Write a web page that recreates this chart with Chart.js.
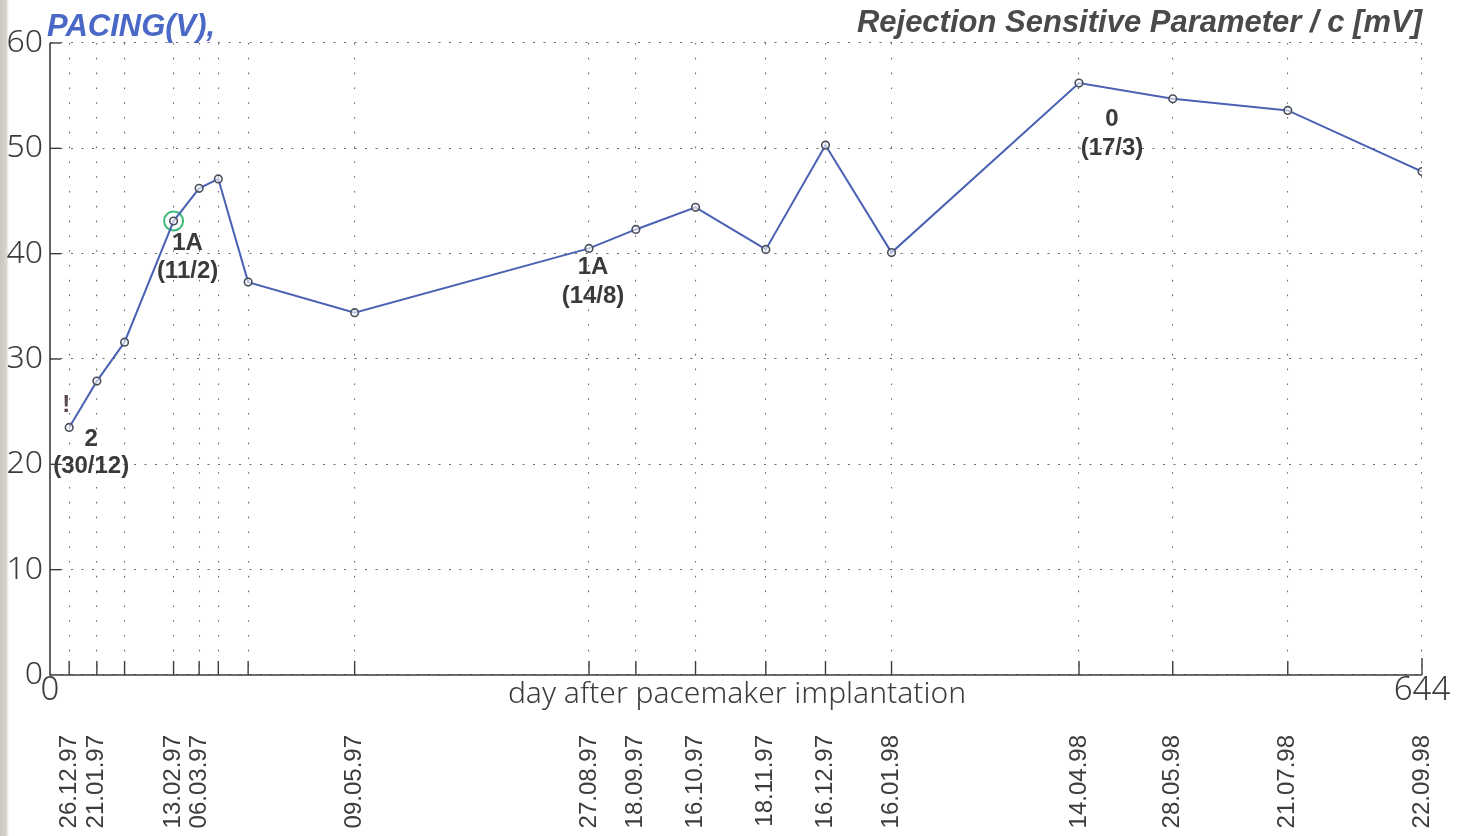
<!DOCTYPE html>
<html>
<head>
<meta charset="utf-8">
<script src="https://cdn.jsdelivr.net/npm/chart.js@4.4.1/dist/chart.umd.min.js"></script>
<style>
  html, body { margin: 0; padding: 0; }
  body {
    width: 1468px; height: 836px; overflow: hidden;
    background: linear-gradient(to right, #cbc6be 0px, #d6d2cb 6px, #ffffff 9px);
  }
  canvas { display: block; }
</style>
</head>
<body>
<canvas id="c" width="1468" height="836"></canvas>
<script>
// Measurement days (days after pacemaker implantation)
const days = [9, 22, 35, 58, 70, 79, 93, 143, 253, 275, 303, 336, 364, 395, 483, 527, 581, 644];
// Rejection sensitive parameter, mV
const rsp = [23.5, 27.9, 31.6, 43.1, 46.2, 47.1, 37.3, 34.4, 40.5, 42.3, 44.4, 40.4, 50.3, 40.1, 56.2, 54.7, 53.6, 47.8];
// Calendar date printed under each measurement ('' = unlabelled)
const dateLabels = ['26.12.97', '21.01.97', '', '13.02.97', '06.03.97', '', '', '09.05.97',
  '27.08.97', '18.09.97', '16.10.97', '18.11.97', '16.12.97', '16.01.98',
  '14.04.98', '28.05.98', '21.07.98', '22.09.98'];
// Biopsy results attached to measurements: point index, grade, biopsy date
const biopsyIdx = [0, 3, 8, 14];
const biopsyGrade = ['2', '1A', '1A', '0'];
const biopsyDate = ['(30/12)', '(11/2)', '(14/8)', '(17/3)'];
// Highlighted measurement
const markedIdx = [3];
// Axis ranges and tick values
const dayRange = [0, 644];
const yTicks = [0, 10, 20, 30, 40, 50, 60];

const thinFont = "'Noto Sans', 'DejaVu Sans', sans-serif";
const boldFont = "'Liberation Sans', Arial, sans-serif";
const INK = '#3c3c3c';

const chartArea = { left: 50, top: 43, right: 1422, bottom: 675 };

// keep the plot frame fixed regardless of label overhang
function noOverhang(s) {
  s.paddingLeft = 0; s.paddingRight = 0; s.paddingTop = 0; s.paddingBottom = 0;
}

const decorPlugin = {
  id: 'decor',
  beforeDatasetsDraw(chart) {
    const ctx = chart.ctx;
    const xs = chart.scales.xDates, ys = chart.scales.y;
    const a = chart.chartArea;
    ctx.save();
    ctx.strokeStyle = INK;
    ctx.lineWidth = 1.6;
    ctx.setLineDash([]);
    // axis lines
    ctx.beginPath();
    ctx.moveTo(a.left, a.top);
    ctx.lineTo(a.left, a.bottom);
    ctx.lineTo(a.right, a.bottom);
    ctx.stroke();
    // inward ticks on the day axis
    ctx.lineWidth = 1.4;
    xs.ticks.forEach(t => {
      const px = xs.getPixelForValue(t.value);
      const len = t.value === dayRange[1] ? 17 : 14;
      ctx.beginPath();
      ctx.moveTo(px, a.bottom);
      ctx.lineTo(px, a.bottom - len);
      ctx.stroke();
    });
    // inward ticks on the value axis
    ys.ticks.forEach(t => {
      if (t.value === 0) return;
      const py = ys.getPixelForValue(t.value);
      ctx.beginPath();
      ctx.moveTo(a.left, py);
      ctx.lineTo(a.left + 11, py);
      ctx.stroke();
    });
    ctx.restore();
  },
  afterDatasetsDraw(chart) {
    const ctx = chart.ctx;
    const xs = chart.scales.xDates, ys = chart.scales.y;
    const a = chart.chartArea;
    const o = chart.options.plugins.decor;
    ctx.save();
    // biopsy annotations
    ctx.fillStyle = '#3a3a3a';
    ctx.font = 'bold 24px ' + boldFont;
    ctx.textAlign = 'center';
    ctx.textBaseline = 'middle';
    biopsyIdx.forEach((idx, k) => {
      const px = xs.getPixelForValue(days[idx]);
      const py = ys.getPixelForValue(rsp[idx]);
      const off = o.noteOffsets[k];
      ctx.fillText(biopsyGrade[k], px + off[0], py + off[1]);
      ctx.fillText(biopsyDate[k], px + off[0], py + off[2]);
    });
    // warning mark above the first measurement
    ctx.fillStyle = '#5c4a4a';
    ctx.fillText('!', xs.getPixelForValue(days[0]) - 3, ys.getPixelForValue(rsp[0]) - 22);

    // axis caption, on the same line as the end labels
    ctx.fillStyle = INK;
    ctx.font = '300 30px ' + thinFont;
    ctx.textBaseline = 'middle';
    ctx.fillText('day after pacemaker implantation', (a.left + a.right) / 2 + 1, a.bottom + 19);

    // headers
    ctx.font = 'italic bold 31px ' + boldFont;
    ctx.textAlign = 'left';
    ctx.textBaseline = 'alphabetic';
    ctx.fillStyle = '#4a68c6';
    ctx.fillText('PACING(V),', 47, 36);
    ctx.textAlign = 'right';
    ctx.fillStyle = '#4a4a4a';
    ctx.font = 'italic bold 31px ' + boldFont;
    ctx.fillText('Rejection Sensitive Parameter / c [mV]', 1422, 32);
    ctx.restore();
  }
};

new Chart(document.getElementById('c'), {
  type: 'line',
  data: {
    datasets: [
      {
        data: days.map((d, i) => ({ x: d, y: rsp[i] })),
        xAxisID: 'xDates',
        borderColor: '#4b62b4',
        borderWidth: 2,
        pointRadius: 3.8,
        pointBorderWidth: 1.6,
        pointBorderColor: '#4a4f5c',
        pointBackgroundColor: 'rgba(255,255,255,0.6)',
        tension: 0
      },
      {
        data: markedIdx.map(i => ({ x: days[i], y: rsp[i] })),
        xAxisID: 'xDates',
        showLine: false,
        pointRadius: 9.5,
        pointBorderWidth: 2,
        pointBorderColor: '#3dbb7a',
        pointBackgroundColor: 'rgba(0,0,0,0)'
      }
    ]
  },
  options: {
    responsive: false,
    animation: false,
    events: [],
    layout: { padding: { top: chartArea.top, right: 1468 - chartArea.right, left: 0, bottom: 0 } },
    plugins: {
      legend: { display: false },
      tooltip: { enabled: false },
      decor: {
        // [dx, dy grade, dy date] relative to the annotated point
        noteOffsets: [[22, 12, 39], [14, 22, 50], [4, 19, 48], [33, 36, 65]]
      }
    },
    scales: {
      y: {
        type: 'linear',
        min: yTicks[0], max: yTicks[yTicks.length - 1],
        afterFit(s) { s.width = chartArea.left; noOverhang(s); },
        afterBuildTicks(s) { s.ticks = yTicks.map(v => ({ value: v })); },
        ticks: {
          color: INK,
          font: { family: thinFont, size: 32, weight: '300' },
          padding: 7,
          crossAlign: 'near'
        },
        grid: {
          display: true,
          color: '#6a6a6a',
          lineWidth: 1.1,
          drawTicks: false
        },
        border: { display: false, dash: [2, 8.5] }
      },
      xDates: {
        type: 'linear',
        position: 'bottom',
        weight: 2,
        min: dayRange[0], max: dayRange[1],
        afterFit(s) { s.height = 125; noOverhang(s); },
        afterBuildTicks(s) { s.ticks = days.map(v => ({ value: v })); },
        ticks: {
          autoSkip: false,
          minRotation: 90,
          maxRotation: 90,
          color: INK,
          font: { family: "'Liberation Sans', Arial, sans-serif", size: 24 },
          padding: 24,
          callback(value) {
            const i = days.indexOf(value);
            return i >= 0 ? dateLabels[i] : '';
          }
        },
        grid: {
          display: true,
          color: '#6a6a6a',
          lineWidth: 1.1,
          drawTicks: false
        },
        border: { display: false, dash: [1.6, 13.2] }
      },
      x: {
        type: 'linear',
        position: 'bottom',
        weight: 1,
        min: dayRange[0], max: dayRange[1],
        afterFit(s) { s.height = 836 - chartArea.bottom - 125; noOverhang(s); },
        afterBuildTicks(s) { s.ticks = dayRange.map(v => ({ value: v })); },
        ticks: {
          autoSkip: false,
          maxRotation: 0,
          color: INK,
          font: { family: thinFont, size: 33, weight: '300' },
          padding: -4
        },
        grid: { display: false, drawTicks: false },
        border: { display: false }
      }
    }
  },
  plugins: [decorPlugin]
});
</script>
</body>
</html>
